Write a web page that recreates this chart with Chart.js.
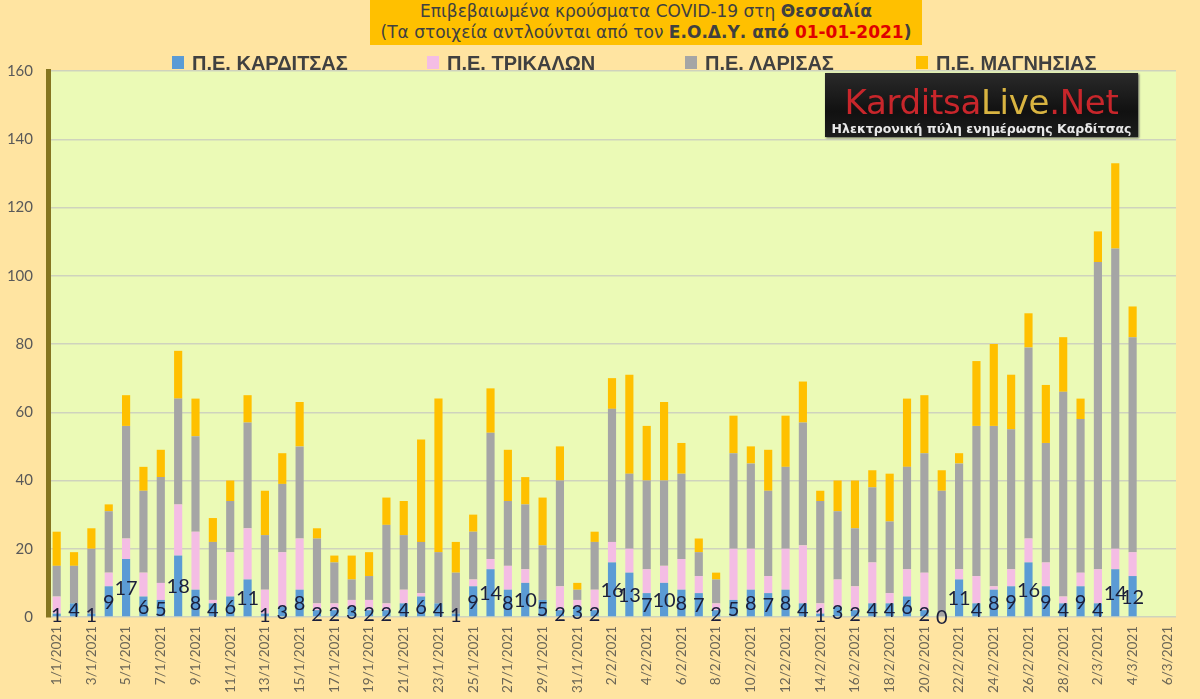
<!DOCTYPE html>
<html>
<head>
<meta charset="utf-8">
<script src="https://cdn.jsdelivr.net/npm/chart.js@4.4.0/dist/chart.umd.min.js"></script>
<style>
  html, body { margin: 0; padding: 0; background: #FFE4A1; }
  #wrap { position: relative; width: 1200px; height: 699px; overflow: hidden; background: #FFE4A1; }
  #chart { position: absolute; left: 0; top: 0; }
  .title {
    position: absolute; left: 370px; top: 0; width: 552px; height: 45px;
    background: #FFC000; color: #404040; text-align: center;
    font-family: "DejaVu Sans", sans-serif; font-size: 17px; line-height: 21px;
    padding-top: 1px; box-sizing: border-box; white-space: nowrap;
  }
  .title .red { color: #E00000; }
  .leg { position: absolute; top: 51px; height: 24px; color: #404040;
    font-family: "Liberation Sans Narrow", sans-serif; font-weight: bold; font-size: 20px; line-height: 24px; white-space: nowrap; }
  .leg i { position: absolute; left: -20px; top: 5px; width: 12px; height: 13px; }
  .logo {
    position: absolute; left: 825px; top: 73px; width: 313px; height: 64px;
    background: linear-gradient(#2a2a2a, #111 60%, #1c1c1c); box-shadow: 1px 1px 2px #555;
    font-family: "DejaVu Sans", sans-serif; text-align: center; white-space: nowrap;
  }
  .logo .big { position: absolute; left: 0; width: 100%; top: 11px; font-size: 34px; line-height: 36px; letter-spacing: -0.3px; }
  .logo .small { position: absolute; left: 0; width: 100%; top: 48px; font-size: 12.5px; font-weight: bold; color: #e8e8e8; }
</style>
</head>
<body>
<div id="wrap">
  <canvas id="chart" width="1200" height="699"></canvas>
  <div class="title">Επιβεβαιωμένα κρούσματα COVID-19 στη <b>Θεσσαλία</b><br>(Τα στοιχεία αντλούνται από τον <b>Ε.Ο.Δ.Υ. από <span class="red">01-01-2021</span>)</b></div>
  <div class="leg" style="left:192px"><i style="background:#5B9BD5"></i>Π.Ε. ΚΑΡΔΙΤΣΑΣ</div>
  <div class="leg" style="left:447px"><i style="background:#F4BDE4"></i>Π.Ε. ΤΡΙΚΑΛΩΝ</div>
  <div class="leg" style="left:705px"><i style="background:#A5A5A5"></i>Π.Ε. ΛΑΡΙΣΑΣ</div>
  <div class="leg" style="left:936px"><i style="background:#FFC000"></i>Π.Ε. ΜΑΓΝΗΣΙΑΣ</div>
  <div class="logo">
    <div class="big"><span style="color:#C8262B">Karditsa</span><span style="color:#D9B441">Live</span><span style="color:#C8262B">.Net</span></div>
    <div class="small">Ηλεκτρονική πύλη ενημέρωσης Καρδίτσας</div>
  </div>
</div>
<script>
// dates 1/1/2021 - 6/3/2021
var dates = [
  "1/1/2021","2/1/2021","3/1/2021","4/1/2021","5/1/2021","6/1/2021","7/1/2021","8/1/2021","9/1/2021","10/1/2021",
  "11/1/2021","12/1/2021","13/1/2021","14/1/2021","15/1/2021","16/1/2021","17/1/2021","18/1/2021","19/1/2021","20/1/2021",
  "21/1/2021","22/1/2021","23/1/2021","24/1/2021","25/1/2021","26/1/2021","27/1/2021","28/1/2021","29/1/2021","30/1/2021",
  "31/1/2021","1/2/2021","2/2/2021","3/2/2021","4/2/2021","5/2/2021","6/2/2021","7/2/2021","8/2/2021","9/2/2021",
  "10/2/2021","11/2/2021","12/2/2021","13/2/2021","14/2/2021","15/2/2021","16/2/2021","17/2/2021","18/2/2021","19/2/2021",
  "20/2/2021","21/2/2021","22/2/2021","23/2/2021","24/2/2021","25/2/2021","26/2/2021","27/2/2021","28/2/2021","1/3/2021",
  "2/3/2021","3/3/2021","4/3/2021","5/3/2021","6/3/2021"
];

var karditsa = [1,4,1,9,17,6,5,18,8,4, 6,11,1,3,8,2,2,3,2,2, 4,6,4,1,9,14,8,10,5,2,
  3,2,16,13,7,10,8,7,2,5, 8,7,8,4,1,3,2,4,4,6, 2,0,11,4,8,9,16,9,4,9, 4,14,12,null,null];
var trikala = [5,0,0,4,6,7,5,15,17,1, 13,15,7,16,15,2,2,2,3,2, 4,1,0,0,2,3,7,4,0,7,
  2,6,6,7,7,5,9,5,2,15, 12,5,12,17,3,8,7,12,3,8, 11,0,3,8,1,5,7,7,2,4, 10,6,7,null,null];
var larisa = [9,11,19,18,33,24,31,31,28,17, 15,31,16,20,27,19,12,6,7,23, 16,15,15,12,14,37,19,19,16,31,
  3,14,39,22,26,25,25,7,7,28, 25,25,24,36,30,20,17,22,21,30, 35,37,31,44,47,41,56,35,60,45, 90,88,63,null,null];
var magnisia = [10,4,6,2,9,7,8,14,11,7, 6,8,13,9,13,3,2,7,7,8, 10,30,45,9,5,13,15,8,14,10,
  2,3,9,29,16,23,9,4,2,11, 5,12,15,12,3,9,14,5,14,20, 17,6,3,19,24,16,10,17,16,6, 9,25,9,null,null];

var yTicks = [0,20,40,60,80,100,120,140,160];

// light green plot background
var plotBg = {
  id: 'plotBg',
  beforeDraw: function(chart) {
    var a = chart.chartArea, c = chart.ctx;
    c.save();
    c.fillStyle = '#EBFAB6';
    c.fillRect(a.left, a.top, a.right - a.left, a.bottom - a.top);
    c.restore();
  }
};

// Karditsa values written in the middle of the blue segment
var blueLabels = {
  id: 'blueLabels',
  afterDatasetsDraw: function(chart) {
    var c = chart.ctx;
    var meta = chart.getDatasetMeta(0);
    c.save();
    c.font = '20px Lato';
    c.fillStyle = '#1b1f3b';
    c.textAlign = 'center';
    c.textBaseline = 'middle';
    meta.data.forEach(function(bar, i) {
      var v = karditsa[i];
      if (v === null) return;
      var y = (bar.y + bar.base) / 2;
      c.fillText(String(v), bar.x, y + 1);
    });
    c.restore();
  }
};

var ctx = document.getElementById('chart').getContext('2d');
new Chart(ctx, {
  type: 'bar',
  data: {
    labels: dates,
    datasets: [
      { label: 'Π.Ε. ΚΑΡΔΙΤΣΑΣ', data: karditsa, backgroundColor: '#5B9BD5' },
      { label: 'Π.Ε. ΤΡΙΚΑΛΩΝ', data: trikala, backgroundColor: '#F4BDE4' },
      { label: 'Π.Ε. ΛΑΡΙΣΑΣ', data: larisa, backgroundColor: '#A5A5A5' },
      { label: 'Π.Ε. ΜΑΓΝΗΣΙΑΣ', data: magnisia, backgroundColor: '#FFC000' }
    ]
  },
  options: {
    responsive: false,
    animation: false,
    layout: { padding: { top: 71, right: 24, bottom: 0, left: 0 } },
    datasets: { bar: { categoryPercentage: 1, barPercentage: 0.47 } },
    plugins: {
      legend: { display: false },
      title: { display: false },
      tooltip: { enabled: false }
    },
    scales: {
      x: {
        stacked: true,
        grid: { display: false, drawTicks: false },
        border: { display: false },
        ticks: {
          autoSkip: false, minRotation: 90, maxRotation: 90, padding: 9,
          color: '#6b6656', font: { family: 'Lato', size: 13.5 },
          callback: function(v, i) { return i % 2 === 0 ? dates[i] : ''; }
        },
        afterFit: function(s) { s.height = 82; }
      },
      y: {
        stacked: true, min: 0, max: 160,
        afterBuildTicks: function(s) { s.ticks = yTicks.map(function(v) { return { value: v }; }); },
        grid: { color: '#cfd3bd', lineWidth: 1.5, drawTicks: false },
        border: { color: '#857520', width: 5 },
        ticks: { padding: 15, color: '#595959', font: { family: 'Lato', size: 15 } },
        afterFit: function(s) { s.width = 48; }
      }
    }
  },
  plugins: [plotBg, blueLabels]
});
</script>
</body>
</html>
